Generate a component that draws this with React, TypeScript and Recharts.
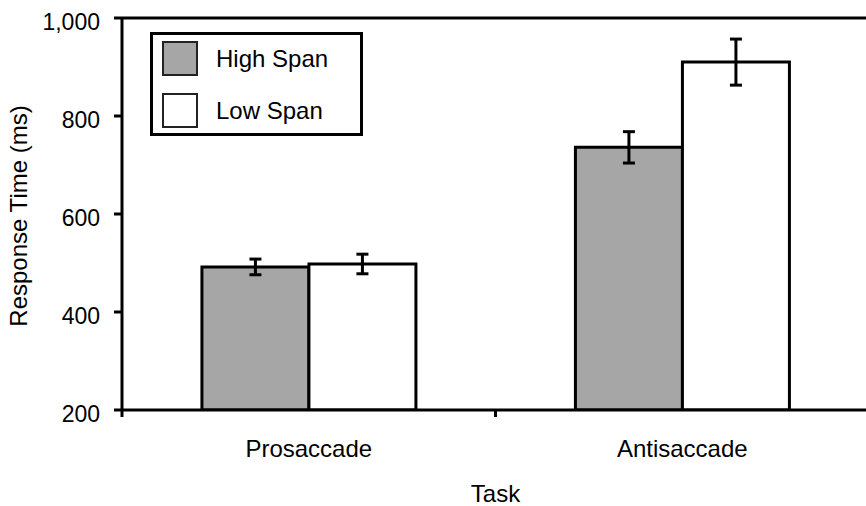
import React from "react";
import {
  BarChart,
  Bar,
  XAxis,
  YAxis,
  ErrorBar,
  Legend,
  ReferenceLine,
} from "recharts";

const TASKS = ["Prosaccade", "Antisaccade"];
const HIGH_SPAN = [492, 736];
const HIGH_SPAN_ERR = [16, 32];
const LOW_SPAN = [498, 910];
const LOW_SPAN_ERR = [20, 47];
const Y_TICKS = [200, 400, 600, 800, 1000];

const SERIES = [
  { key: "high", name: "High Span", fill: "#a6a6a6" },
  { key: "low", name: "Low Span", fill: "#ffffff" },
];

const data = TASKS.map((task, i) => ({
  task,
  high: HIGH_SPAN[i],
  highErr: HIGH_SPAN_ERR[i],
  low: LOW_SPAN[i],
  lowErr: LOW_SPAN_ERR[i],
}));

const FONT = '"Liberation Sans", Arial, Helvetica, sans-serif';
const LABEL_SIZE = 24;
const CHART_W = 880;
const CHART_H = 506;
const MARGIN = { top: 18, right: 11, bottom: 26, left: 0 };
const Y_AXIS_W = 122;
const X_TICK_SIZE = 8;
// width of one category band, used for the boundary ticks on the x axis
const BAND = (CHART_W - MARGIN.left - MARGIN.right - Y_AXIS_W) / TASKS.length;

const TaskTick = (props: any) => {
  const { x, y, payload, index } = props;
  const axisY = y - X_TICK_SIZE;
  const half = BAND / 2;
  return (
    <g>
      <text
        x={x}
        y={axisY + 47}
        textAnchor="middle"
        fontSize={LABEL_SIZE}
        fontFamily={FONT}
        fill="#000"
      >
        {payload.value}
      </text>
      {index === 0 && (
        <line x1={x - half} x2={x - half} y1={axisY} y2={axisY + 7} stroke="#000" strokeWidth={3} />
      )}
      <line x1={x + half} x2={x + half} y1={axisY} y2={axisY + 7} stroke="#000" strokeWidth={3} />
    </g>
  );
};

const YTitle = (props: any) => {
  const vb = props.viewBox || { x: 0, y: 18, height: 392 };
  const cx = vb.x + 27;
  const cy = vb.y + vb.height / 2 + 2;
  return (
    <text
      x={cx}
      y={cy}
      transform={`rotate(-90 ${cx} ${cy})`}
      textAnchor="middle"
      fontSize={LABEL_SIZE}
      fontFamily={FONT}
      fill="#000"
    >
      Response Time (ms)
    </text>
  );
};

const XTitle = (props: any) => {
  const vb = props.viewBox || { x: 122, y: 410, width: 747 };
  return (
    <text
      x={vb.x + vb.width / 2}
      y={vb.y + 92}
      textAnchor="middle"
      fontSize={LABEL_SIZE}
      fontFamily={FONT}
      fill="#000"
    >
      Task
    </text>
  );
};

const LegendBox = () => (
  <div
    style={{
      boxSizing: "border-box",
      width: 213,
      height: 104,
      border: "3px solid #000",
      background: "#fff",
      padding: "6px 0 0 9px",
      fontFamily: FONT,
      fontSize: LABEL_SIZE,
      color: "#000",
    }}
  >
    {SERIES.map((s, i) => (
      <div
        key={s.key}
        style={{
          display: "flex",
          alignItems: "center",
          height: 35,
          marginTop: i === 0 ? 0 : 17,
        }}
      >
        <span
          style={{
            boxSizing: "border-box",
            display: "inline-block",
            width: 36,
            height: 35,
            background: s.fill,
            border: "2px solid #222",
          }}
        />
        <span style={{ marginLeft: 18, lineHeight: "35px" }}>{s.name}</span>
      </div>
    ))}
  </div>
);

export default function App() {
  return (
    <div
      style={{
        position: "absolute",
        left: 0,
        top: 0,
        width: 866,
        height: 506,
        overflow: "hidden",
        background: "#fff",
        fontFamily: FONT,
      }}
    >
      <BarChart
        width={CHART_W}
        height={CHART_H}
        data={data}
        margin={MARGIN}
        barCategoryGap="21.4%"
        barGap={0}
      >
        <XAxis
          dataKey="task"
          height={70}
          axisLine={{ stroke: "#000", strokeWidth: 3 }}
          tickLine={false}
          tickSize={X_TICK_SIZE}
          tickMargin={0}
          tick={<TaskTick />}
          label={{ content: <XTitle /> }}
        />
        <YAxis
          width={Y_AXIS_W}
          domain={[200, 1000]}
          ticks={Y_TICKS}
          allowDataOverflow
          tickFormatter={(v: number) => v.toLocaleString("en-US")}
          axisLine={{ stroke: "#000", strokeWidth: 3 }}
          tickLine={{ stroke: "#000", strokeWidth: 3 }}
          tickSize={8}
          tickMargin={14}
          tick={{ fill: "#000", fontSize: 23, fontFamily: FONT, dy: 4 }}
          label={{ content: <YTitle /> }}
        />
        <ReferenceLine y={1000} stroke="#000" strokeWidth={3} />
        <Legend
          layout="vertical"
          align="center"
          verticalAlign="middle"
          content={<LegendBox />}
          wrapperStyle={{ left: 150, top: 32, width: 213, height: 104 }}
        />
        {SERIES.map((s) => (
          <Bar
            key={s.key}
            dataKey={s.key}
            name={s.name}
            fill={s.fill}
            stroke="#000"
            strokeWidth={3}
            isAnimationActive={false}
          >
            <ErrorBar
              dataKey={`${s.key}Err`}
              width={6}
              stroke="#000"
              strokeWidth={3}
            />
          </Bar>
        ))}
      </BarChart>
    </div>
  );
}
